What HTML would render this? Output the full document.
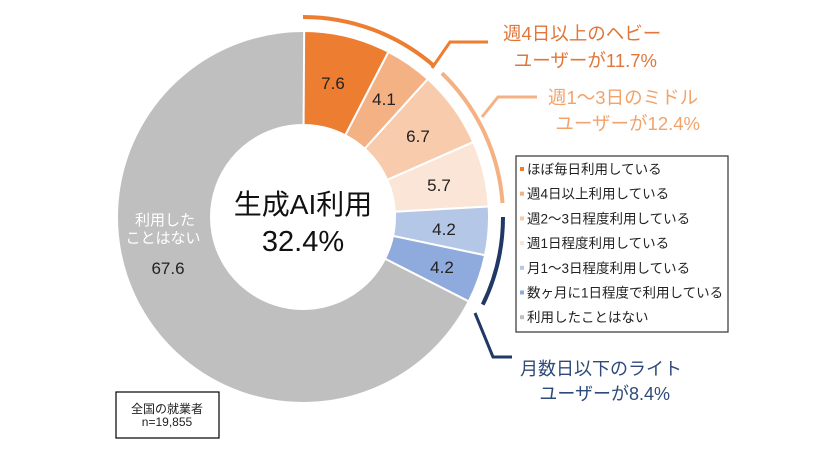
<!DOCTYPE html>
<html><head><meta charset="utf-8"><style>
body{margin:0;background:#fff;width:840px;height:450px;overflow:hidden}
svg{display:block;font-family:"Liberation Sans","Noto Sans CJK JP",sans-serif}
</style></head><body>
<svg id="s" width="840" height="450" viewBox="0 0 840 450" xmlns="http://www.w3.org/2000/svg">
<g id="pie"></g>
<g id="arcs" fill="none"></g>
<polyline points="432,68 450,42 488,42" fill="none" stroke="#ED7D31" stroke-width="3"/>
<polyline points="482,117 498,97 537,97" fill="none" stroke="#F4B183" stroke-width="3"/>
<polyline points="475,313 493,357 512,357" fill="none" stroke="#1F3864" stroke-width="3"/>
<g font-size="18.5" fill="#E0763A">
<text x="503" y="40">週4日以上のヘビー</text>
<text x="657" y="67" text-anchor="end">ユーザーが11.7%</text>
</g>
<g font-size="18.5" fill="#F2A36C">
<text x="548" y="104">週1～3日のミドル</text>
<text x="700" y="130" text-anchor="end">ユーザーが12.4%</text>
</g>
<g font-size="18" fill="#2F4A7A">
<text x="520" y="375">月数日以下のライト</text>
<text x="670" y="400" text-anchor="end">ユーザーが8.4%</text>
</g>
<rect x="516" y="156" width="212" height="176" fill="#fff" stroke="#333" stroke-width="1.2"/>
<g id="leg" font-size="13.5" fill="#222"></g>
<g font-size="17" fill="#222" text-anchor="middle">
<text x="333" y="89">7.6</text><text x="384" y="105">4.1</text><text x="418" y="142">6.7</text>
<text x="439" y="191">5.7</text><text x="444" y="235">4.2</text><text x="442" y="273">4.2</text>
<text x="168" y="274">67.6</text>
</g>
<g font-size="15" fill="#fff" text-anchor="middle">
<text x="165" y="225">利用した</text><text x="163" y="243">ことはない</text>
</g>
<g fill="#111" text-anchor="middle">
<text x="303" y="214" font-size="28">生成AI利用</text>
<text x="303" y="251" font-size="29">32.4%</text>
</g>
<rect x="116" y="392" width="103" height="46" fill="#fff" stroke="#000" stroke-width="1.2"/>
<g font-size="12" fill="#222" text-anchor="middle">
<text x="167" y="413">全国の就業者</text><text x="167" y="426">n=19,855</text>
</g>
</svg>
<script>
var cx=303,cy=217,R=186,r=92;
var vals=[7.6,4.1,6.7,5.7,4.2,4.2,67.6];
var cols=["#ED7D31","#F4B183","#F8CBAD","#FBE5D6","#B4C7E7","#8FAADC","#BFBFBF"];
function pt(a,rad){var t=(a-90)*Math.PI/180;return [cx+rad*Math.cos(t),cy+rad*Math.sin(t)];}
var ns="http://www.w3.org/2000/svg",g=document.getElementById("pie"),a=0;
vals.forEach(function(v,i){var b=a+v*3.6,L=(b-a)>180?1:0;
var p1=pt(a,R),p2=pt(b,R),p3=pt(b,r),p4=pt(a,r);
var p=document.createElementNS(ns,"path");
p.setAttribute("d","M"+p1+"A"+R+","+R+" 0 "+L+" 1 "+p2+"L"+p3+"A"+r+","+r+" 0 "+L+" 0 "+p4+"Z");
p.setAttribute("fill",cols[i]);p.setAttribute("stroke","#fff");p.setAttribute("stroke-width","2");
g.appendChild(p);a=b;});
var ag=document.getElementById("arcs");
function arc(s,e,c,rad){var p1=pt(s,rad),p2=pt(e,rad);var p=document.createElementNS(ns,"path");
p.setAttribute("d","M"+p1+"A"+rad+","+rad+" 0 0 1 "+p2);p.setAttribute("stroke",c);p.setAttribute("stroke-width","4");ag.appendChild(p);}
arc(0,41,"#ED7D31",200);arc(44,86,"#F4B183",200);arc(90,116,"#1F3864",200);
var items=["ほぼ毎日利用している","週4日以上利用している","週2～3日程度利用している","週1日程度利用している","月1～3日程度利用している","数ヶ月に1日程度で利用している","利用したことはない"];
var lg=document.getElementById("leg");
items.forEach(function(t,i){var y=169+i*24.7;
var q=document.createElementNS(ns,"rect");q.setAttribute("x",520);q.setAttribute("y",y-2);q.setAttribute("width",4);q.setAttribute("height",4);q.setAttribute("fill",cols[i]);lg.appendChild(q);
var tx=document.createElementNS(ns,"text");tx.setAttribute("x",527);tx.setAttribute("y",y+5);tx.textContent=t;lg.appendChild(tx);});
</script>
</body></html>
